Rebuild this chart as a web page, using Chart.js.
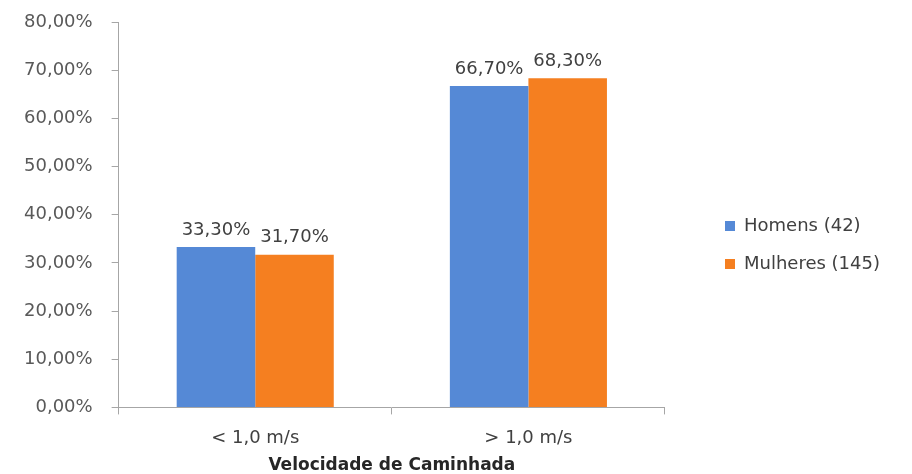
<!DOCTYPE html>
<html>
<head>
<meta charset="utf-8">
<script src="https://cdn.jsdelivr.net/npm/chart.js@4"></script>
<style>
  html, body { margin: 0; padding: 0; background: #fff; }
  #grafic { display: block; }
</style>
</head>
<body>
<canvas id="grafic" width="912" height="474"></canvas>
<script>
// dades
const categories = ["< 1,0 m/s", "> 1,0 m/s"];
const homens = [33.3, 66.7];
const mulheres = [31.7, 68.3];
const serieNames = ["Homens (42)", "Mulheres (145)"];
const yTicks = [0, 10, 20, 30, 40, 50, 60, 70, 80];
const xTitle = "Velocidade de Caminhada";

const FONT = "'DejaVu Sans', Verdana, sans-serif";
const AXIS = "#A6A6A6";

function pct(v) {
  return v.toFixed(2).replace(".", ",") + "%";
}

// etiquetes damunt de les barres
const etiquetes = {
  id: "etiquetes",
  afterDatasetsDraw(chart) {
    const ctx = chart.ctx;
    ctx.save();
    ctx.font = "18px " + FONT;
    ctx.fillStyle = "#404040";
    ctx.textAlign = "center";
    ctx.textBaseline = "bottom";
    chart.data.datasets.forEach((ds, i) => {
      chart.getDatasetMeta(i).data.forEach((bar, j) => {
        ctx.fillText(pct(ds.data[j]), bar.x, bar.y - 8);
      });
    });
    ctx.restore();
  }
};

// separa la llegenda del grafic
const llegendaGap = {
  id: "llegendaGap",
  beforeInit(chart) {
    const legend = chart.legend;
    const draw = legend.draw;
    legend.draw = function () {
      const ctx = this.ctx;
      ctx.save();
      ctx.translate(40, 8);
      draw.apply(this, arguments);
      ctx.restore();
    };
  }
};

let node = document.querySelector("#grafic");
let myChart = new Chart(node, {
  type: "bar",
  data: {
    labels: categories,
    datasets: [
      { label: serieNames[0], data: homens, backgroundColor: "#5589D6" },
      { label: serieNames[1], data: mulheres, backgroundColor: "#F57F20" }
    ]
  },
  options: {
    responsive: false,
    animation: false,
    categoryPercentage: 0.575,
    barPercentage: 1.0,
    layout: { padding: { left: 5, top: 0, right: 62, bottom: 0 } },
    plugins: {
      tooltip: { enabled: false },
      legend: {
        position: "right",
        labels: {
          boxWidth: 10,
          boxHeight: 10,
          padding: 20,
          color: "#404040",
          font: { family: FONT, size: 18 }
        }
      }
    },
    scales: {
      x: {
        grid: { drawOnChartArea: false, tickLength: 7, color: AXIS },
        border: { color: AXIS },
        ticks: { color: "#404040", padding: 13, font: { family: FONT, size: 18 } },
        title: {
          display: true,
          text: xTitle,
          color: "#262626",
          padding: { top: -5, bottom: 0 },
          font: { family: FONT, size: 17, weight: "bold", lineHeight: 1.0 }
        }
      },
      y: {
        min: yTicks[0],
        max: yTicks[yTicks.length - 1],
        afterBuildTicks(axis) {
          axis.ticks = yTicks.map(v => ({ value: v }));
        },
        afterFit(axis) {
          axis.paddingTop = 22;
        },
        grid: { drawOnChartArea: false, tickLength: 7, color: AXIS },
        border: { color: AXIS },
        ticks: {
          color: "#595959",
          padding: 19,
          font: { family: FONT, size: 18 },
          callback: v => pct(v)
        }
      }
    }
  },
  plugins: [etiquetes, llegendaGap]
});
</script>
</body>
</html>
